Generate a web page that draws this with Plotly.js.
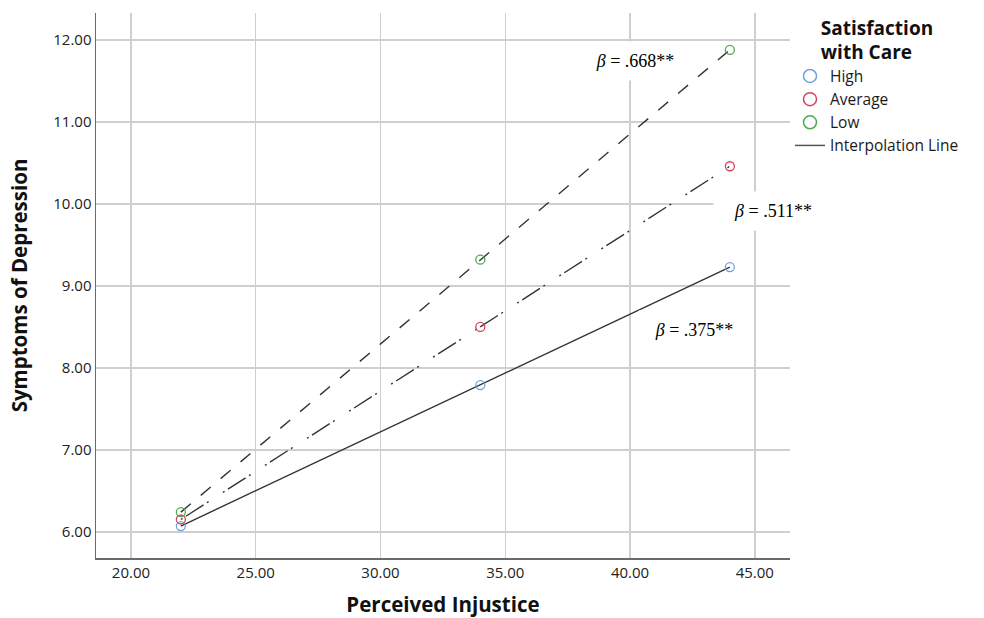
<!DOCTYPE html>
<html>
<head>
<meta charset="utf-8">
<script src="https://cdn.plot.ly/plotly-3.0.1.min.js"></script>
<style>html,body{margin:0;padding:0;background:#fff;}#chart{width:984px;height:618px;}</style>
</head>
<body>
<div id="chart"></div>
<script>
var injustice = [22, 34, 44];
var groups = ["High", "Average", "Low"];
var highVals = [6.07, 7.79, 9.23];
var averageVals = [6.15, 8.50, 10.46];
var lowVals = [6.24, 9.32, 11.88];
var betaValues = [".375**", ".511**", ".668**"];
var xTicks = [20, 25, 30, 35, 40, 45];
var yTicks = [6, 7, 8, 9, 10, 11, 12];

var colors = {High: "#6fa3e0", Average: "#d8405e", Low: "#4fa84f"};
var dashes = {High: "solid", Average: "2px,4px,21px,4px,2px,17px", Low: "13px,13px"};
var seriesVals = {High: highVals, Average: averageVals, Low: lowVals};

var traces = [];
groups.forEach(function (g) {
  traces.push({
    x: injustice, y: seriesVals[g], mode: "lines", type: "scatter",
    line: {color: "#333333", width: 1.4, dash: dashes[g]},
    showlegend: false, hoverinfo: "skip"
  });
});
groups.forEach(function (g) {
  traces.push({
    x: injustice, y: seriesVals[g], mode: "markers", type: "scatter", name: g,
    legendgroup: g, showlegend: false,
    marker: {symbol: "circle-open", size: 9, color: colors[g], line: {width: 1.3, color: colors[g]}}
  });
});
groups.forEach(function (g) {
  traces.push({
    x: [null], y: [null], mode: "markers", type: "scatter", name: g,
    legendgroup: g, showlegend: true,
    marker: {symbol: "circle-open", size: 13, color: colors[g], line: {width: 1.5, color: colors[g]}}
  });
});
traces.push({
  x: [null], y: [null], mode: "lines", type: "scatter", name: "Interpolation Line",
  line: {color: "#555", width: 1.5}
});

var annFont = {family: "Liberation Serif, Times New Roman, serif", size: 18, color: "#000"};
function betaAnn(val, x, y, w) {
  return {x: x, y: y, xref: "x", yref: "y", text: "<i>β</i> = " + val, showarrow: false,
    font: annFont, bgcolor: "#ffffff", borderpad: 9, width: w, xanchor: "center", yanchor: "middle"};
}

var tickFont = {family: "Open Sans", size: 15, color: "#222"};

var layout = {
  width: 984, height: 618,
  margin: {l: 96, r: 191, t: 13, b: 60},
  paper_bgcolor: "#fff", plot_bgcolor: "#fff",
  font: {family: "Open Sans, DejaVu Sans, sans-serif", color: "#111"},
  xaxis: {
    range: [18.6, 46.41], tickvals: xTicks, tickformat: ".2f", tickfont: tickFont,
    showgrid: true, gridcolor: "#cfcfcf", gridwidth: 1.5,
    showline: true, linecolor: "#6a6a6a", linewidth: 1.5, zeroline: false, ticks: "",
    title: {text: "<b>Perceived Injustice</b>", font: {size: 20.5, color: "#111"}, standoff: 23}
  },
  yaxis: {
    range: [5.68, 12.33], tickvals: yTicks, tickformat: ".2f", tickfont: tickFont,
    showgrid: true, gridcolor: "#cfcfcf", gridwidth: 1.5,
    showline: true, linecolor: "#6a6a6a", linewidth: 1.5, zeroline: false, ticks: "",
    title: {text: "<b>Symptoms of Depression</b>", font: {size: 20.5, color: "#111"}, standoff: 20}
  },
  showlegend: true,
  legend: {
    xref: "container", yref: "container", x: 790 / 984, y: 1 - 10 / 618, xanchor: "left", yanchor: "top",
    bgcolor: "rgba(255,255,255,0)", borderwidth: 0, itemsizing: "trace",
    font: {size: 15.5, color: "#1a1a1a"}, tracegroupgap: 0,
    title: {text: "<b>Satisfaction<br>with Care</b>", side: "top center", font: {size: 19, color: "#111"}}
  },
  annotations: [
    betaAnn(betaValues[2], 40.18, 11.74, 100),
    betaAnn(betaValues[1], 45.73, 9.915, 100),
    betaAnn(betaValues[0], 42.58, 8.46, 92)
  ]
};

Plotly.newPlot("chart", traces, layout, {displayModeBar: false, staticPlot: true});
</script>
</body>
</html>
